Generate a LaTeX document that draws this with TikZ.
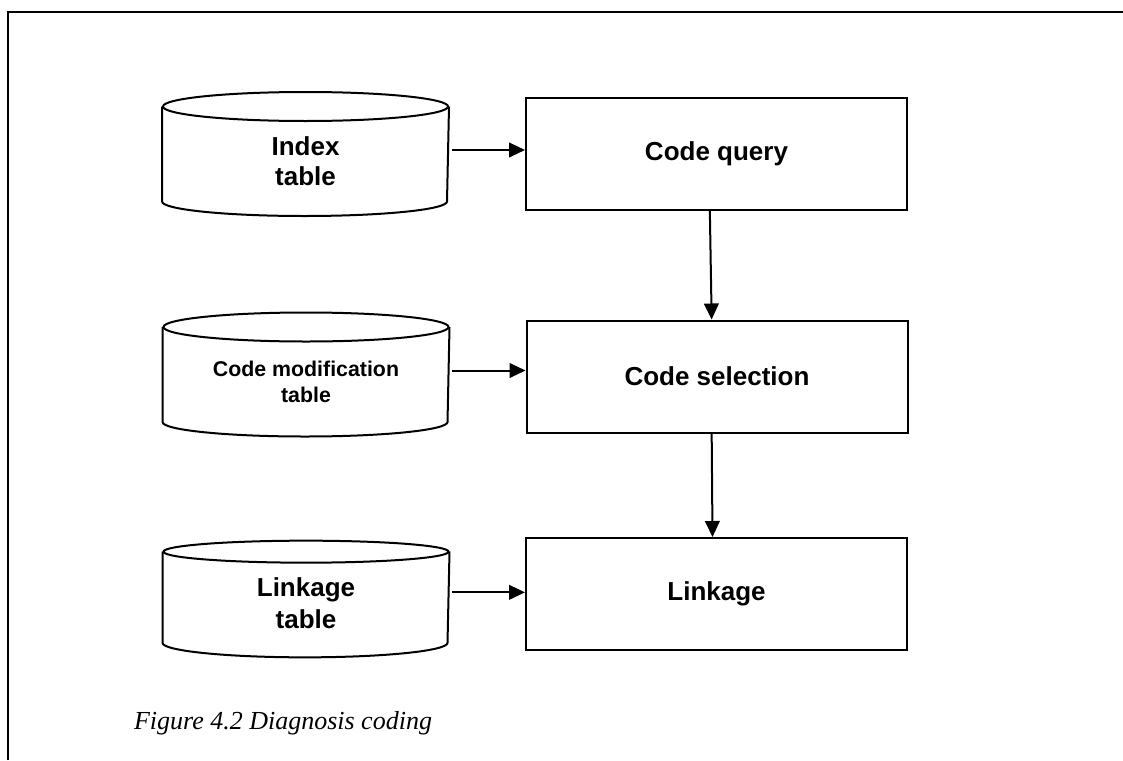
\documentclass[tikz,border=0pt]{standalone}
\usepackage{fontspec}
\setmainfont{Liberation Sans}
\newfontfamily\capfont{Liberation Serif}
\usetikzlibrary{arrows.meta}

% outline of a table drum round a named node (opt. arg: top ellipse y radius)
\newcommand\drum[2][10.875pt]{%
  \draw ([yshift=-#1]#2.north west) -- ([yshift=10.875pt]#2.south west)
    arc[start angle=180,end angle=360,x radius=106.875pt,y radius=10.875pt]
    -- ([yshift=-#1]#2.north east);
  \draw ([yshift=-#1]#2.north) ellipse[x radius=106.875pt,y radius=#1];}

\begin{document}
\begin{tikzpicture}[x=0.75pt,y=-0.75pt,line width=1.5pt,
    >={Triangle[length=12pt,width=11pt]},
    tbl/.style={rectangle,minimum width=213.75pt,minimum height=91.5pt,inner sep=0pt},
    tbltext/.style={align=center,inner sep=0pt,
      font=\bfseries\fontsize{19.5}{23}\selectfont},
    proc/.style={draw,rectangle,minimum width=285.75pt,minimum height=84pt,
      inner sep=0pt,font=\bfseries\fontsize{19.5}{23}\selectfont}]
  \useasboundingbox (0,0) rectangle (1123,760);
  % frame
  \draw (8,760) -- (8,12) -- (1123,12);
  % tables
  \node[tbl] (idx) at (305.5,154) {};
  \node[tbl] (mod) at (306,374.5) {};
  \node[tbl,minimum height=86pt] (lnkt) at (306,599) {};
  \drum{idx} \drum{mod} \drum[8.25pt]{lnkt}
  \node[tbltext] (idxt) at ([yshift=-5.5pt]idx.center) {Index\\table};
  \node[tbltext,font=\bfseries\fontsize{16}{20}\selectfont] (modt) at ([yshift=-5.5pt]mod.center) {Code modification\\table};
  \node[tbltext,font=\bfseries\fontsize{19.5}{24}\selectfont] (lnktt) at ([yshift=-3pt]lnkt.center) {Linkage\\table};
  % steps
  \node[proc] (query) at (716.5,154) {Code query};
  \node[proc] (sel) at (717,376.5) {Code selection};
  \node[proc] (lnk) at (716.5,594) {Linkage};
  % arrows
  \draw[->,shorten <=2pt] ([yshift=3pt]idx.east) -- ([yshift=3pt]idx.east -| query.west);
  \draw[->,shorten <=2pt] ([yshift=3pt]mod.east) -- ([yshift=3pt]mod.east -| sel.west);
  \draw[->,shorten <=2pt] ([yshift=5pt]lnkt.east) -- ([yshift=5pt]lnkt.east -| lnk.west);
  \draw[->] ([xshift=-5pt]query.south) -- ([xshift=-4pt]sel.north);
  \draw[->] ([xshift=-4pt]sel.south) -- ([xshift=-3pt]lnk.north);
  % caption
  \node[anchor=base west,inner sep=0pt,font=\capfont\itshape\fontsize{19.5}{23}\selectfont] (cap) at (133,729) {Figure 4.2 Diagnosis coding};
\end{tikzpicture}
\end{document}
